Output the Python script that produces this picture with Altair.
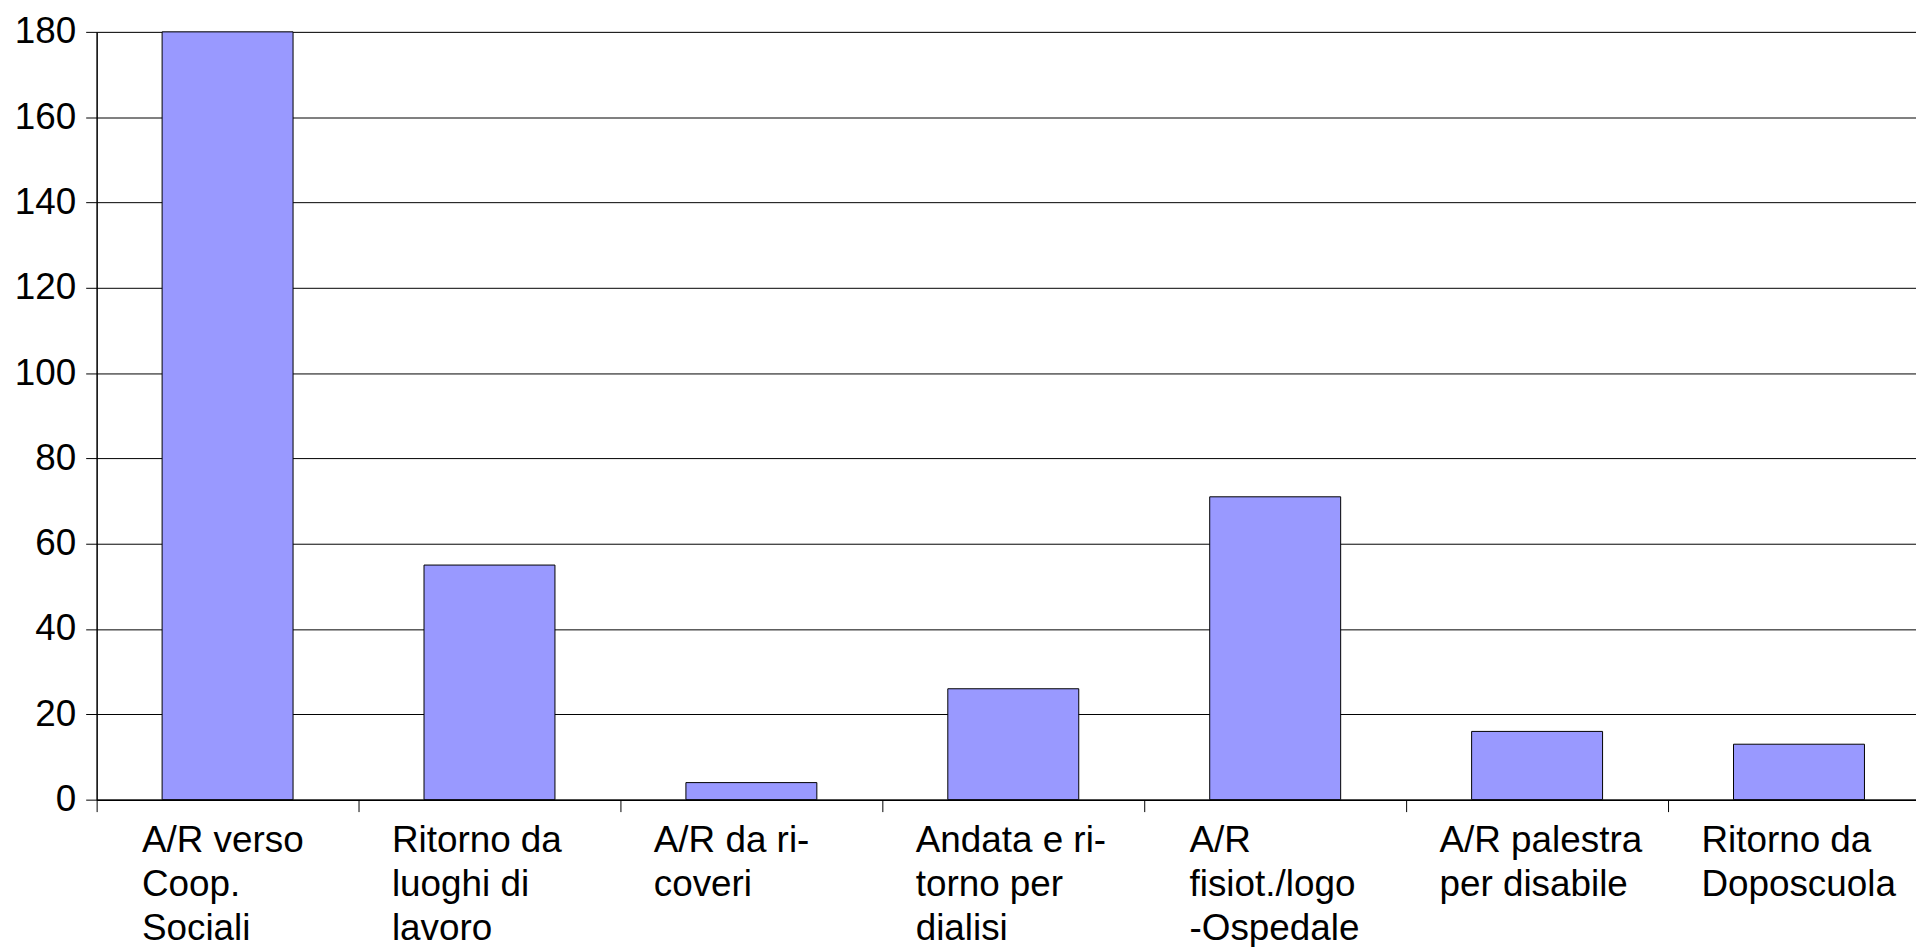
import altair as alt
import pandas as pd

categories = [
    "A/R verso\nCoop.\nSociali",
    "Ritorno da\nluoghi di\nlavoro",
    "A/R da ri-\ncoveri",
    "Andata e ri-\ntorno per\ndialisi",
    "A/R\nfisiot./logo\n-Ospedale",
    "A/R palestra\nper disabile",
    "Ritorno da\nDoposcuola",
]
values = [180, 55, 4, 26, 71, 16, 13]
y_ticks = [0, 20, 40, 60, 80, 100, 120, 140, 160, 180]

df = pd.DataFrame({"cat": categories, "val": values})

FONT = "Liberation Sans"

chart = (
    alt.Chart(df)
    .mark_bar(color="#9999FF", stroke="#000000", strokeWidth=1)
    .encode(
        x=alt.X(
            "cat:N",
            sort=None,
            title=None,
            scale=alt.Scale(range=[0, 1841], paddingInner=0.5, paddingOuter=0.25),
            axis=alt.Axis(
                labelAngle=0,
                labelExpr="split(datum.label, '\\n')",
                labelAlign="left",
                labelBaseline="top",
                labelOffset=alt.expr(
                    "(indexof(datum.value, 'verso') >= 0 || indexof(datum.value, 'fisiot') >= 0) ? 45 : 33"
                ),
                labelPadding=11,
                labelLineHeight=44,
                labelFont=FONT,
                labelFontSize=37,
                labelColor="#000000",
                labelLimit=400,
                tickOffset=-131.5,
                tickSize=12,
                tickColor="#000000",
                domainColor="#000000",
                domainWidth=1.5,
                grid=False,
            ),
        ),
        y=alt.Y(
            "val:Q",
            title=None,
            scale=alt.Scale(domain=[0, 180], nice=False),
            axis=alt.Axis(
                values=y_ticks,
                labelFont=FONT,
                labelFontSize=37,
                labelColor="#000000",
                labelPadding=10,
                tickSize=11,
                tickColor="#000000",
                domainColor="#000000",
                domainWidth=1.5,
                grid=True,
                gridColor="#000000",
                gridWidth=1,
            ),
        ),
    )
    .properties(
        width=1827,
        height=771,
        autosize=alt.AutoSizeParams(type="none"),
        padding={"left": 89, "top": 22, "right": 0, "bottom": 149},
    )
    .configure_view(stroke="transparent")
    .configure(background="#ffffff")
)

chart.save("out.html", embed_options={"renderer": "svg", "actions": False})
